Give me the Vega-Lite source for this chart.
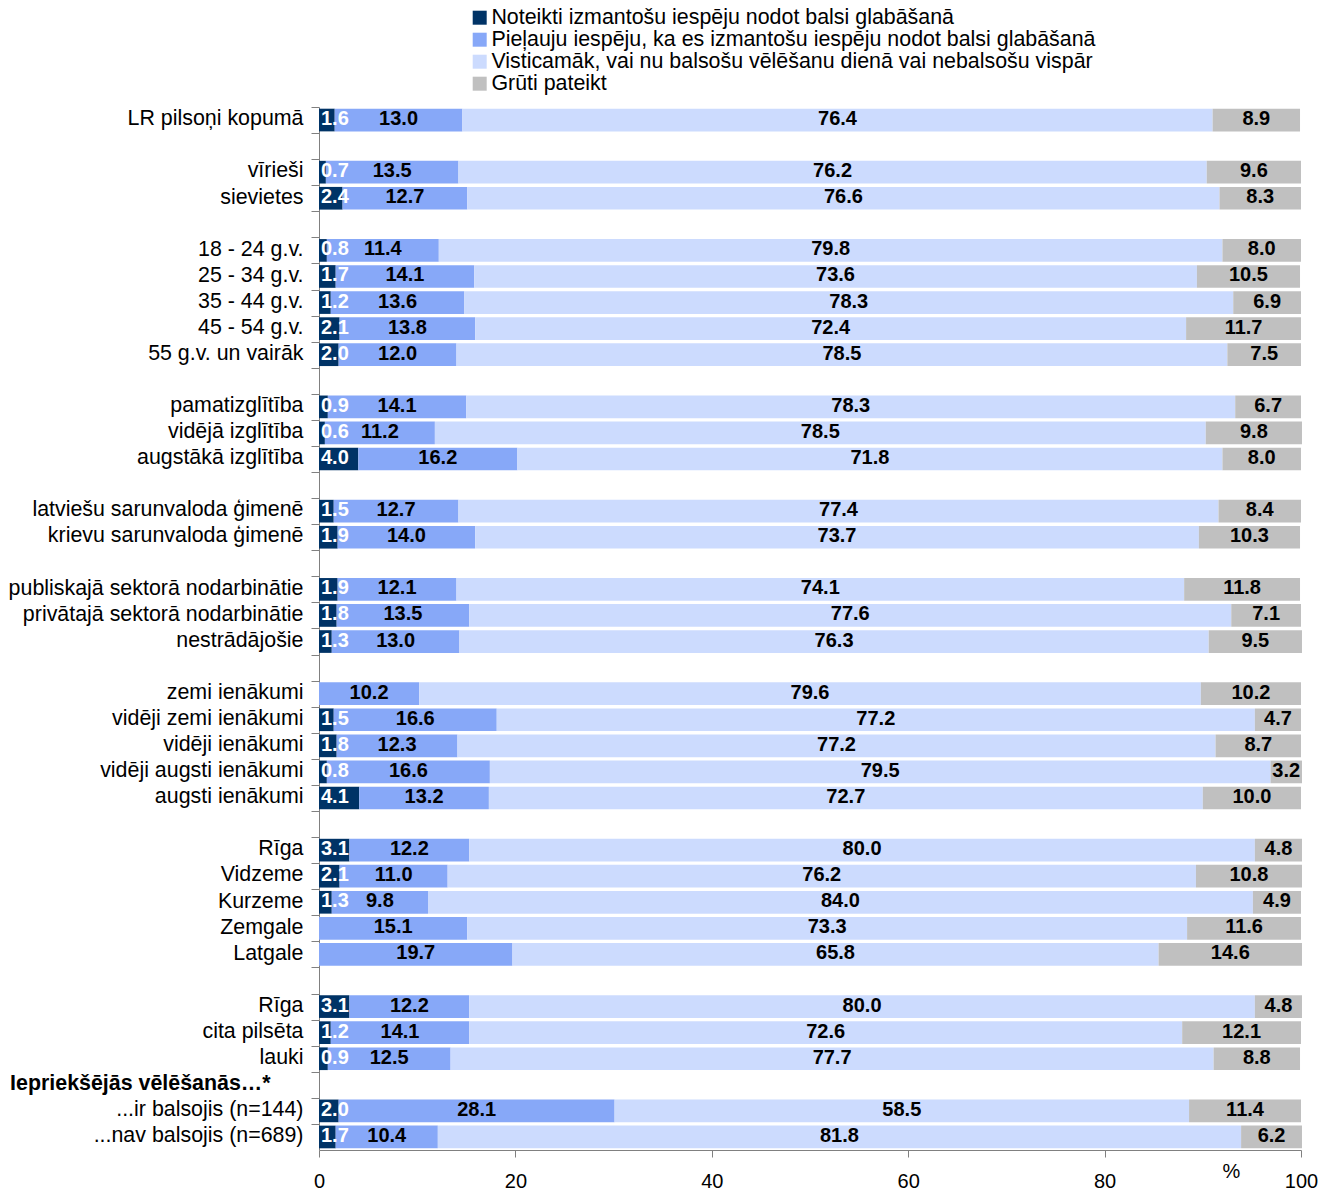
{
  "$schema": "https://vega.github.io/schema/vega-lite/v6.json",
  "autosize": {"type": "none"},
  "padding": {"left": 319, "top": 107, "right": 34, "bottom": 41},
  "width": 982,
  "height": 1043,
  "config": {
    "font": "Liberation Sans",
    "view": {"stroke": null}
  },
  "data": {
    "values": [
      {"row": "LR pilsoņi kopumā", "a": 1.6, "b": 13.0, "c": 76.4, "d": 8.9},
      {"row": "vīrieši", "a": 0.7, "b": 13.5, "c": 76.2, "d": 9.6},
      {"row": "sievietes", "a": 2.4, "b": 12.7, "c": 76.6, "d": 8.3},
      {"row": "18 - 24 g.v.", "a": 0.8, "b": 11.4, "c": 79.8, "d": 8.0},
      {"row": "25 - 34 g.v.", "a": 1.7, "b": 14.1, "c": 73.6, "d": 10.5},
      {"row": "35 - 44 g.v.", "a": 1.2, "b": 13.6, "c": 78.3, "d": 6.9},
      {"row": "45 - 54 g.v.", "a": 2.1, "b": 13.8, "c": 72.4, "d": 11.7},
      {"row": "55 g.v. un vairāk", "a": 2.0, "b": 12.0, "c": 78.5, "d": 7.5},
      {"row": "pamatizglītība", "a": 0.9, "b": 14.1, "c": 78.3, "d": 6.7},
      {"row": "vidējā izglītība", "a": 0.6, "b": 11.2, "c": 78.5, "d": 9.8},
      {"row": "augstākā izglītība", "a": 4.0, "b": 16.2, "c": 71.8, "d": 8.0},
      {"row": "latviešu sarunvaloda ģimenē", "a": 1.5, "b": 12.7, "c": 77.4, "d": 8.4},
      {"row": "krievu sarunvaloda ģimenē", "a": 1.9, "b": 14.0, "c": 73.7, "d": 10.3},
      {"row": "publiskajā sektorā nodarbinātie", "a": 1.9, "b": 12.1, "c": 74.1, "d": 11.8},
      {"row": "privātajā sektorā nodarbinātie", "a": 1.8, "b": 13.5, "c": 77.6, "d": 7.1},
      {"row": "nestrādājošie", "a": 1.3, "b": 13.0, "c": 76.3, "d": 9.5},
      {"row": "zemi ienākumi", "a": 0, "b": 10.2, "c": 79.6, "d": 10.2},
      {"row": "vidēji zemi ienākumi", "a": 1.5, "b": 16.6, "c": 77.2, "d": 4.7},
      {"row": "vidēji ienākumi", "a": 1.8, "b": 12.3, "c": 77.2, "d": 8.7},
      {"row": "vidēji augsti ienākumi", "a": 0.8, "b": 16.6, "c": 79.5, "d": 3.2},
      {"row": "augsti ienākumi", "a": 4.1, "b": 13.2, "c": 72.7, "d": 10.0},
      {"row": "Rīga", "a": 3.1, "b": 12.2, "c": 80.0, "d": 4.8},
      {"row": "Vidzeme", "a": 2.1, "b": 11.0, "c": 76.2, "d": 10.8},
      {"row": "Kurzeme", "a": 1.3, "b": 9.8, "c": 84.0, "d": 4.9},
      {"row": "Zemgale", "a": 0, "b": 15.1, "c": 73.3, "d": 11.6},
      {"row": "Latgale", "a": 0, "b": 19.7, "c": 65.8, "d": 14.6},
      {"row": "Rīga#2", "a": 3.1, "b": 12.2, "c": 80.0, "d": 4.8},
      {"row": "cita pilsēta", "a": 1.2, "b": 14.1, "c": 72.6, "d": 12.1},
      {"row": "lauki", "a": 0.9, "b": 12.5, "c": 77.7, "d": 8.8},
      {"row": "...ir balsojis (n=144)", "a": 2.0, "b": 28.1, "c": 58.5, "d": 11.4},
      {"row": "...nav balsojis (n=689)", "a": 1.7, "b": 10.4, "c": 81.8, "d": 6.2}
    ]
  },
  "transform": [
    {"fold": ["a", "b", "c", "d"], "as": ["key", "val"]},
    {"window": [{"op": "sum", "field": "val", "as": "x1"}], "groupby": ["row"], "sort": [{"field": "key", "order": "ascending"}], "frame": [null, 0]},
    {"calculate": "datum.x1 - datum.val", "as": "x0"},
    {"calculate": "datum.x1 - datum.val / 2", "as": "mid"}
  ],
  "encoding": {
    "y": {
      "field": "row",
      "type": "nominal",
      "sort": null,
      "scale": {
        "domain": ["LR pilsoņi kopumā", "_g1", "vīrieši", "sievietes", "_g2", "18 - 24 g.v.", "25 - 34 g.v.", "35 - 44 g.v.", "45 - 54 g.v.", "55 g.v. un vairāk", "_g3", "pamatizglītība", "vidējā izglītība", "augstākā izglītība", "_g4", "latviešu sarunvaloda ģimenē", "krievu sarunvaloda ģimenē", "_g5", "publiskajā sektorā nodarbinātie", "privātajā sektorā nodarbinātie", "nestrādājošie", "_g6", "zemi ienākumi", "vidēji zemi ienākumi", "vidēji ienākumi", "vidēji augsti ienākumi", "augsti ienākumi", "_g7", "Rīga", "Vidzeme", "Kurzeme", "Zemgale", "Latgale", "_g8", "Rīga#2", "cita pilsēta", "lauki", "Iepriekšējās vēlēšanās…*", "...ir balsojis (n=144)", "...nav balsojis (n=689)"],
        "paddingInner": 0.13,
        "paddingOuter": 0.065
      },
      "axis": {
        "title": null,
        "tickSize": 8,
        "tickOffset": -13.04,
        "labelOffset": 11.8,
        "labelPadding": {"condition": {"test": "indexof(datum.value, 'Iepriek') === 0", "value": 41}, "value": 8},
        "labelFontSize": 21.4,
        "labelColor": "black",
        "labelLimit": 600,
        "domainColor": "#808080",
        "tickColor": "#808080",
        "labelExpr": "indexof(datum.value, '_g') === 0 ? '' : split(datum.value, '#')[0]",
        "labelFontWeight": {"condition": {"test": "indexof(datum.value, 'Iepriek') === 0", "value": "bold"}, "value": "normal"}
      }
    }
  },
  "layer": [
    {
      "mark": {"type": "bar"},
      "encoding": {
        "x": {
          "field": "x0",
          "type": "quantitative",
          "scale": {"domain": [0, 100], "nice": false},
          "title": "%",
          "axis": {
            "values": [0, 20, 40, 60, 80, 100],
            "grid": false,
            "tickSize": 7,
            "labelPadding": 14,
            "labelFontSize": 20,
            "labelColor": "black",
            "labelFlush": false,
            "domainColor": "#808080",
            "tickColor": "#808080",
            "titleX": 912,
            "titleY": 11,
            "titleAlign": "center",
            "titleBaseline": "top",
            "titleFontWeight": "normal",
            "titleFontSize": 20,
            "titleColor": "black"
          }
        },
        "x2": {"field": "x1"},
        "color": {
          "field": "key",
          "type": "nominal",
          "scale": {"domain": ["a", "b", "c", "d"], "range": ["#003366", "#87a8f8", "#ccdbfe", "#c0c0c0"]},
          "legend": {
            "title": null,
            "orient": "none",
            "legendX": 150,
            "legendY": -100,
            "direction": "vertical",
            "symbolType": "square",
            "symbolSize": 196,
            "labelFontSize": 21.4,
            "labelColor": "black",
            "labelOffset": 1,
            "rowPadding": -1.4,
            "labelLimit": 1000,
            "labelExpr": "datum.value === 'a' ? 'Noteikti izmantošu iespēju nodot balsi glabāšanā' : datum.value === 'b' ? 'Pieļauju iespēju, ka es izmantošu iespēju nodot balsi glabāšanā' : datum.value === 'c' ? 'Visticamāk, vai nu balsošu vēlēšanu dienā vai nebalsošu vispār' : 'Grūti pateikt'"
          }
        }
      }
    },
    {
      "transform": [{"filter": "datum.key === 'a' && datum.val > 0"}],
      "mark": {"type": "text", "align": "left", "dx": 2, "dy": -1, "baseline": "middle", "fontSize": 20, "fontWeight": "bold", "color": "white"},
      "encoding": {
        "x": {"field": "x0", "type": "quantitative"},
        "text": {"field": "val", "type": "quantitative", "format": ".1f"}
      }
    },
    {
      "transform": [{"filter": "datum.key !== 'a'"}],
      "mark": {"type": "text", "align": "center", "dy": -1, "baseline": "middle", "fontSize": 20, "fontWeight": "bold", "color": "black"},
      "encoding": {
        "x": {"field": "mid", "type": "quantitative"},
        "text": {"field": "val", "type": "quantitative", "format": ".1f"}
      }
    }
  ]
}
